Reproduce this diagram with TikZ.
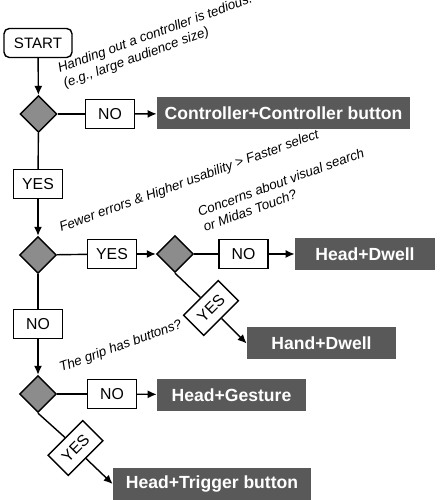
\documentclass[tikz,border=0pt]{standalone}
\usepackage{fontspec}
\setmainfont{Liberation Sans}
\usetikzlibrary{calc}
\usetikzlibrary{arrows.meta}
\usetikzlibrary{shapes.geometric}
\definecolor{outgray}{gray}{0.35}
\definecolor{diagray}{gray}{0.55}
\tikzset{
  decision/.style={diamond,draw,thick,fill=diagray,minimum width=0.74cm,minimum height=0.74cm,inner sep=0pt},
  answer/.style={draw,thick,fill=white,minimum width=0.98cm,minimum height=0.57cm,inner sep=1pt,font=\fontsize{9}{10}\selectfont},
  outcome/.style={fill=outgray,text=white,minimum height=0.64cm,inner sep=1pt,font=\fontsize{10}{12}\selectfont\bfseries},
  question/.style={anchor=base west,rotate=20,align=left,inner sep=0pt,font=\fontsize{7.6}{9.2}\selectfont\itshape},
  flow/.style={black,thick,-{Latex[length=1.8mm,width=1.6mm]}}
}

\begin{document}
\begin{tikzpicture}

\useasboundingbox (0,0) rectangle (8.88,10);

\node[draw,thick,rounded corners=3pt,minimum width=1.36cm,minimum height=0.58cm,font=\fontsize{8.6}{10}\selectfont] (start) at (0.76,9.14) {START};

\node[decision] (D1) at (0.77,7.72) {};
\node[decision] (D2) at (0.76,4.9) {};
\node[decision] (D3) at (3.5,4.92) {};
\node[decision] (D4) at (0.76,2.12) {};

\node[answer] (no1) at (2.2,7.72) {NO};
\node[answer] (yes1) at (0.76,6.32) {YES};
\node[answer] (yes2) at (2.24,4.92) {YES};
\node[answer] (no3) at (4.87,4.92) {NO};
\node[answer,rotate=45] (yes3) at (4.22,3.84) {YES};
\node[answer] (no2) at (0.76,3.52) {NO};
\node[answer] (no4) at (2.24,2.12) {NO};
\node[answer,rotate=45] (yes4) at (1.51,1.04) {YES};

\node[outcome,minimum width=5.06cm] (ctrl) at (5.67,7.73) {Controller+Controller button};
\node[outcome,minimum width=2.8cm] (headdwell) at (7.3,4.92) {Head+Dwell};
\node[outcome,minimum width=2.98cm] (handdwell) at (6.43,3.13) {Hand+Dwell};
\node[outcome,minimum width=2.98cm] (headgest) at (4.63,2.1) {Head+Gesture};
\node[outcome,minimum width=3.96cm] (headtrig) at (4.24,0.32) {Head+Trigger button};

\node[question] (q1) at (1.3,8.24) {Handing out a controller is tedious.\\(e.g., large audience size)};
\node[question] (q2) at (1.22,5.36) {Fewer errors \& Higher usability > Faster select};
\node[question] (q3) at (4.1,5.36) {Concerns about visual search\\or Midas Touch?};
\node[question] (q4) at (1.22,2.56) {The grip has buttons?};

\draw[flow] (start) -- (D1);
\draw[black,thick] (D1) -- (no1);
\draw[flow] (no1) -- (ctrl);
\draw[black,thick] (D1) -- (yes1);
\draw[flow] (yes1) -- (D2);
\draw[black,thick] (D2) -- (yes2);
\draw[flow] (yes2) -- (D3);
\draw[black,thick] (D3) -- (no3);
\draw[flow] (no3) -- (headdwell);
\draw[black,thick] (D3.south) -- (yes3.north);
\draw[flow] (yes3.south) -- (handdwell.west);
\draw[black,thick] (D2) -- (no2);
\draw[flow] (no2) -- (D4);
\draw[black,thick] (D4) -- (no4);
\draw[flow] (no4) -- (headgest);
\draw[black,thick] (D4.south) -- (yes4.north);
\draw[flow] (yes4.south) -- (headtrig.west);

\end{tikzpicture}
\end{document}
